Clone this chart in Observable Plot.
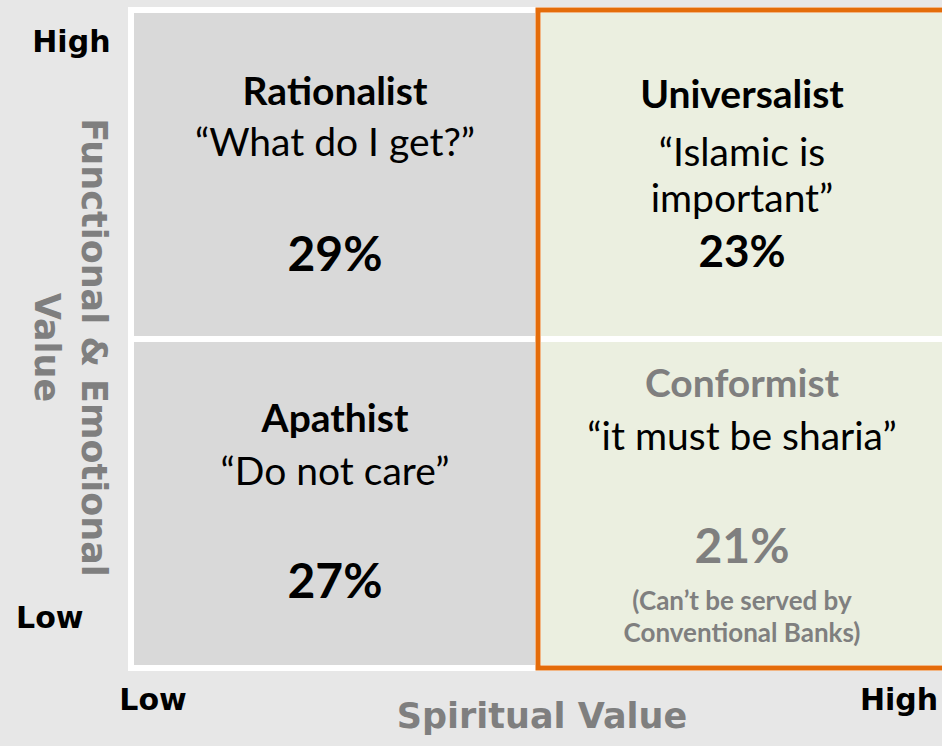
<!DOCTYPE html>
<html>
<head>
<meta charset="utf-8">
<script src="https://cdn.jsdelivr.net/npm/d3@7"></script>
<script src="https://cdn.jsdelivr.net/npm/@observablehq/plot@0.6"></script>
<style>
  html, body { margin: 0; padding: 0; background: #e7e7e7; }
  #chart { width: 942px; height: 746px; overflow: hidden; }
</style>
</head>
<body>
<div id="chart"></div>
<script>
// ---- data ----
const segments   = ["Rationalist", "Universalist", "Apathist", "Conformist"];
const spiritual  = ["Low", "High", "Low", "High"];   // x: Spiritual Value
const functional = ["High", "High", "Low", "Low"];   // y: Functional & Emotional Value
const quotes     = ["“What do I get?”", "“Islamic is\nimportant”", "“Do not care”", "“it must be sharia”"];
const shares     = [29, 23, 27, 21];
const notes      = ["", "", "", "(Can’t be served by\nConventional Banks)"];
const levels     = ["Low", "High"];
const xTitle     = "Spiritual Value";
const yTitle     = "Functional & Emotional\nValue";
const highlight  = ["High"];

const data = segments.map((s, i) => ({
  segment: s, spiritual: spiritual[i], functional: functional[i],
  quote: quotes[i], share: shares[i], note: notes[i]
}));

// ---- styles / layout (not data) ----
const bodyFont = "Lato, 'Open Sans', sans-serif";
const axisFont = "'DejaVu Sans', sans-serif";
const grey = "#7f7f7f";
const layout = {
  Rationalist:  {title: -82,  quote: -34, share: 81, shareSize: 48, color: "black"},
  Universalist: {title: -79,  quote: -1,  share: 78, shareSize: 44, color: "black"},
  Apathist:     {title: -84,  quote: -34, share: 79, shareSize: 48, color: "black"},
  Conformist:   {title: -119, quote: -69, share: 44, shareSize: 48, color: grey, note: 112}
};

const textMarks = [];
for (const d of data) {
  const L = layout[d.segment];
  const one = [d];
  const common = {x: "spiritual", y: "functional", fontFamily: bodyFont};
  textMarks.push(Plot.text(one, {...common, text: "segment", dy: L.title, fontSize: 39, fontWeight: "bold", fill: L.color}));
  textMarks.push(Plot.text(one, {...common, text: "quote", dy: L.quote, fontSize: 39, lineHeight: 1.18, fill: "black"}));
  textMarks.push(Plot.text(one, {...common, text: d => d.share + "%", dy: L.share, fontSize: L.shareSize, fontWeight: "bold", fill: L.color}));
  if (d.note) textMarks.push(Plot.text(one, {...common, text: "note", dy: L.note, fontSize: 26, fontWeight: "bold", lineHeight: 1.23, fill: L.color}));
}

const axisStyle = {tickSize: 0, fontSize: 30, fontWeight: "bold", fontFamily: axisFont, color: "black", label: null};

const chart = Plot.plot({
  width: 942,
  height: 746,
  marginLeft: 131,
  marginTop: 10,
  marginRight: 0,
  marginBottom: 78,
  style: {background: "#e7e7e7", overflow: "visible"},
  x: {type: "band", domain: levels, range: [131, 945], padding: 0, axis: null},
  y: {type: "band", domain: levels.slice().reverse(), range: [10, 668], padding: 0, axis: null},
  color: {domain: levels, range: ["#d9d9d9", "#ebefe0"]},
  marks: [
    Plot.cell(data, {x: "spiritual", y: "functional", fill: "spiritual", stroke: "white", strokeWidth: 6, inset: 0}),
    Plot.cell(highlight, {x: d => d, fill: "none", stroke: "#e46c0a", strokeWidth: 5, inset: 0}),
    Plot.axisX(["Low"],  {...axisStyle, anchor: "bottom", tickPadding: 20, dx: -182}),
    Plot.axisX(["High"], {...axisStyle, anchor: "bottom", tickPadding: 20, dx: 157}),
    Plot.axisY(["High"], {...axisStyle, anchor: "left", tickPadding: 21, dy: -133}),
    Plot.axisY(["Low"],  {...axisStyle, anchor: "left", tickPadding: 48, dy: 114}),
    Plot.text([xTitle], {frameAnchor: "bottom", text: d => d, dx: 5, dy: 59, fontSize: 35, fontWeight: "bold", fontFamily: axisFont, fill: grey}),
    Plot.text([yTitle], {frameAnchor: "left", textAnchor: "middle", text: d => d, rotate: 90, dx: -58, dy: 8, fontSize: 35, fontWeight: "bold", fontFamily: axisFont, fill: grey, lineHeight: 1.34}),
    ...textMarks
  ]
});
document.getElementById("chart").appendChild(chart);
</script>
</body>
</html>
